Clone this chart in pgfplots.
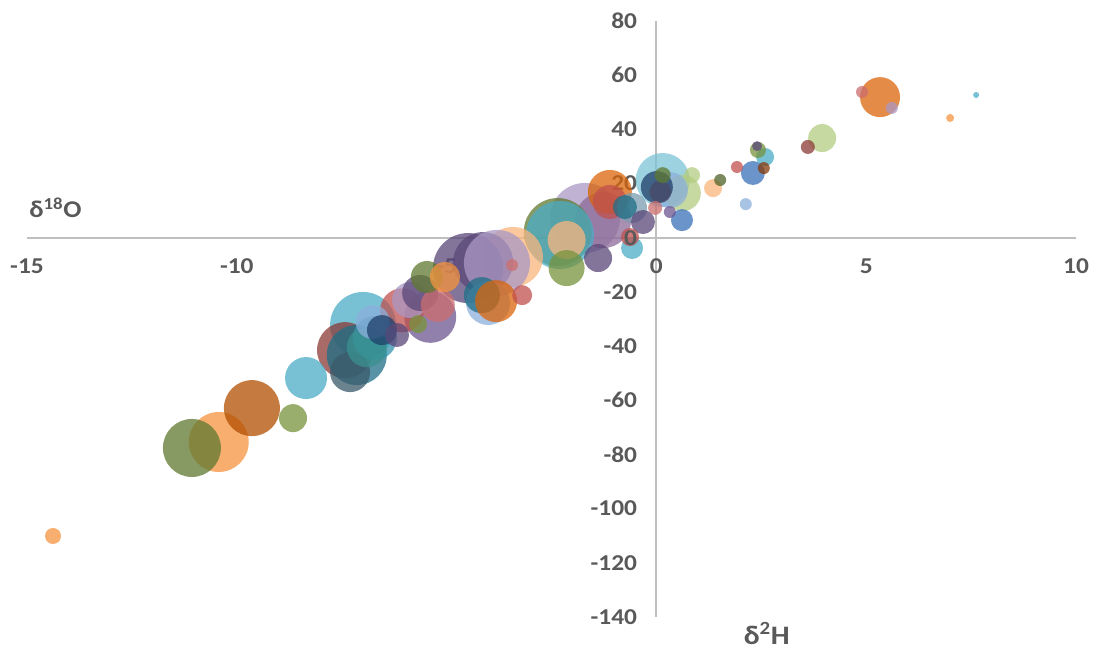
\documentclass[border=0pt]{standalone}
\usepackage{pgfplots}
\pgfplotsset{compat=1.18}
\usepackage{fontspec}
\setmainfont{Carlito}[FakeStretch=1.12]

\definecolor{axgray}{HTML}{BFBFBF}
\definecolor{txtgray}{HTML}{595959}
% bubble palette
\definecolor{orA}{HTML}{F4933D}
\definecolor{orD}{HTML}{D9640A}
\definecolor{orDD}{HTML}{B24F00}
\definecolor{orL}{HTML}{F9B67E}
\definecolor{olA}{HTML}{77933C}
\definecolor{olD}{HTML}{5F782F}
\definecolor{olDD}{HTML}{4F6228}
\definecolor{olL}{HTML}{B3CC80}
\definecolor{puA}{HTML}{6E5590}
\definecolor{puD}{HTML}{5A4778}
\definecolor{puL}{HTML}{AB98C4}
\definecolor{mv}{HTML}{8C6A98}
\definecolor{rdA}{HTML}{C0504D}
\definecolor{rdD}{HTML}{8B3A36}
\definecolor{rdL}{HTML}{CC6E6E}
\definecolor{blA}{HTML}{3A70B8}
\definecolor{blL}{HTML}{8CAFDC}
\definecolor{blD}{HTML}{1F3F6A}
\definecolor{cyA}{HTML}{4BACC6}
\definecolor{cyL}{HTML}{7CC4D6}
\definecolor{tlD}{HTML}{1F6F86}
\definecolor{tlA}{HTML}{3593AD}
\definecolor{tlG}{HTML}{3A9290}
\definecolor{slate}{HTML}{3A5A6A}
\definecolor{glB}{HTML}{7A9CB0}
\definecolor{gp}{HTML}{4A4A68}
\definecolor{brn}{HTML}{843A0A}

\tikzset{ticktext/.style={text=txtgray, font=\bfseries\fontsize{17}{17}\selectfont}}

\begin{document}
\begin{tikzpicture}
\useasboundingbox (-20.25pt,-24.75pt) rectangle (802.5pt,462.75pt);
\begin{axis}[
  at={(0,0)}, anchor=south west,
  scale only axis, width=786.75pt, height=447pt,
  xmin=-15, xmax=10, ymin=-140, ymax=80,
  axis lines=middle,
  axis line style={-, draw=axgray, line width=1.4pt},
  xtick={-15,-10,...,10}, ytick={-140,-120,...,80},
  major tick length=0pt,
  tick label style={ticktext},
  /pgf/number format/assume math mode=true,
  xticklabel style={yshift=-12pt},
  yticklabel style={xshift=-11pt},
  clip=false,
]
\addplot[scatter, only marks, mark=*,
  fill opacity=0.75, draw opacity=0,
  point meta=explicit symbolic,
  visualization depends on={\thisrow{r}\as\rad},
  visualization depends on={value \thisrow{c}\as\col},
  scatter/@pre marker code/.code={%
    \pgfscope
    \pgfsetplotmarksize{\rad pt}%
    \pgfsetfillcolor{\col}\pgfsetstrokecolor{\col}%
  },
  scatter/@post marker code/.code={\endpgfscope}]
  table[x=x, y=y, meta=c] {
x y r c
-1.70 7.3 26.25 puL
-1.27 6.5 21 mv
-2.35 2.1 25.5 olD
-2.30 1.0 25.5 cyA
-3.42 -7.1 22.5 orL
-4.49 -11.2 26.25 puD
-4.13 -9.0 22.5 puD
-3.80 -9.3 24.75 puL
-6.99 -32.2 24.75 cyA
-7.42 -41.5 21 rdD
-7.14 -43.3 22.5 tlD
-10.43 -75.4 22.5 orA
-11.07 -77.6 21.75 olD
-9.64 -62.9 21 orDD
0.15 21.3 20.25 cyL
-5.39 -29.2 19.5 puA
-2.14 -0.85 14.25 orL
-1.11 16.9 16.5 orD
-1.11 13.2 12.75 rdA
-4.01 -24.1 16.5 blL
-4.16 -21.2 13.5 tlD
-3.82 -23.4 15.75 orD
-6.06 -26.8 16.5 rdA
-6.71 -37.0 16.5 tlA
-8.35 -51.8 15.75 cyA
-7.30 -49.6 15 slate
-6.90 -40.4 15 tlG
5.33 51.9 15 orD
0.63 16.5 13.5 olL
0.32 17.6 13.5 blL
-5.87 -23.0 13.5 puL
-5.63 -20.4 13.5 puD
-2.14 -11.2 13.5 olA
-6.76 -31.1 12.75 blL
-5.21 -24.8 12.75 rdL
-5.47 -14.5 12 olD
0.01 18.7 12 blD
-6.54 -34.1 11.25 blD
-5.04 -14.5 11.25 orA
-0.58 11.0 11.25 glB
-8.66 -66.6 10.5 olA
-1.39 -7.5 10.5 puD
3.95 36.8 10.5 olL
-6.18 -35.9 9 puD
-0.75 11.3 9 tlD
-0.32 5.8 9 puD
2.30 23.9 9 blA
-0.58 -3.8 8.25 cyA
0.09 16.9 8.25 gp
0.61 6.5 8.25 blA
-3.20 -21.2 7.5 rdA
-5.68 -31.9 6.75 olA
-0.63 0.25 6.75 rdA
1.35 18.3 6.75 orL
2.59 29.8 6.75 cyA
-14.38 -110.1 6 orA
0.85 23.1 6 olL
0.15 23.1 6 olD
2.42 32.4 6 olA
-0.03 11.0 5.25 rdL
3.61 33.5 5.25 rdD
-3.44 -10.1 4.5 rdL
0.32 9.5 4.5 puA
1.52 21.3 4.5 olDD
1.92 26.1 4.5 rdA
2.13 12.4 4.5 blL
2.56 25.7 4.5 brn
4.90 53.8 4.5 rdL
5.61 47.9 4.5 puL
2.40 33.8 3.75 puD
7.00 44.2 3 orA
7.62 52.7 2.25 cyA
};
\coordinate (origin) at (axis cs:0,0);
\node[anchor=base west, inner sep=0pt, text=txtgray,
  font=\bfseries\fontsize{18}{18}\selectfont] at (axis cs:-14.95,7.3) {δ\textsuperscript{18}O};
\node[anchor=base, inner sep=0pt, text=txtgray,
  font=\bfseries\fontsize{20}{20}\selectfont] at (axis cs:2.63,-150) {δ\textsuperscript{2}H};
\end{axis}
% the zero labels of both axes, set over the bubbles
\node[anchor=north, yshift=-12pt, ticktext] at (origin) {0};
\node[anchor=east, xshift=-11pt, ticktext] at (origin) {0};
\end{tikzpicture}
\end{document}
